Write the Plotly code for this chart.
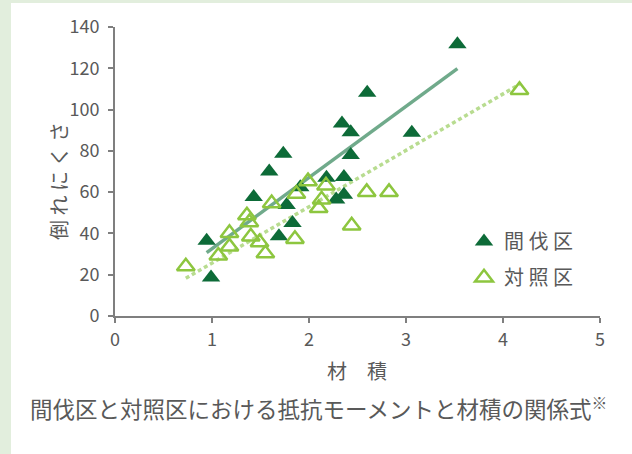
import plotly.graph_objects as go

# ---- data ----
thinned_x = [1.735, 1.59, 2.43, 1.43, 2.18, 2.36, 1.91, 1.77, 2.36, 2.28,
             1.83, 1.69, 0.945, 0.99, 2.60, 2.34, 2.43, 3.06, 3.53]
thinned_y = [78.6, 70.0, 78.0, 57.6, 67.0, 67.3, 62.4, 53.8, 58.7, 56.4,
             45.0, 38.6, 36.5, 18.7, 108.2, 93.2, 89.0, 88.8, 131.6]

control_x = [0.73, 1.065, 1.18, 1.18, 1.36, 1.385, 1.40, 1.49, 1.55, 1.615,
             1.855, 1.87, 1.99, 2.175, 2.13, 2.10, 2.44, 2.595, 2.825, 4.17]
control_y = [24.0, 29.2, 33.6, 40.2, 48.7, 45.4, 38.5, 35.7, 30.3, 54.6,
             37.3, 59.2, 65.2, 63.2, 56.4, 52.2, 43.8, 60.0, 60.0, 109.4]

# regression lines (end points)
fit_thinned_x = [0.945, 3.53]
fit_thinned_y = [30.7, 119.8]
fit_control_x = [0.73, 4.17]
fit_control_y = [18.3, 112.2]

x_ticks = [0, 1, 2, 3, 4, 5]
y_ticks = [0, 20, 40, 60, 80, 100, 120, 140]

series_names = ["間 伐 区", "対 照 区"]
x_title = "材　積"
y_title = "倒 れ に く さ"
caption = "間伐区と対照区における抵抗モーメントと材積の関係式<sup>※</sup>"

FONT = "Noto Sans CJK JP"
TXT = "#595959"
DARK = "#0d6b38"
LIGHT = "#8dc63f"

fig = go.Figure()

fig.add_trace(go.Scatter(
    x=fit_thinned_x, y=fit_thinned_y, mode="lines",
    line=dict(color="#70aa8b", width=3.5), showlegend=False, hoverinfo="skip"))
fig.add_trace(go.Scatter(
    x=fit_control_x, y=fit_control_y, mode="lines",
    line=dict(color="#b8dc90", width=3.5, dash="4px,3px"), showlegend=False,
    hoverinfo="skip"))

fig.add_trace(go.Scatter(
    x=thinned_x, y=thinned_y, mode="markers", name=series_names[0],
    legendgroup="a",
    marker=dict(symbol="triangle-up", size=16, color=DARK,
                line=dict(width=0))))
fig.add_trace(go.Scatter(
    x=control_x, y=control_y, mode="markers", name=series_names[1],
    legendgroup="b",
    marker=dict(symbol="triangle-up-open", size=15.5, color=LIGHT,
                line=dict(width=2.5, color=LIGHT))))

W, H = 632, 454
L, R, T, B = 115, 32, 27, 138
pw, ph = W - L - R, H - T - B


def px2paper_x(px):
    return (px - L) / pw


def px2paper_y(py):
    return (H - B - py) / ph


fig.add_shape(type="rect", xref="paper", yref="paper",
              x0=px2paper_x(11), x1=px2paper_x(W + 5),
              y0=px2paper_y(H + 5), y1=px2paper_y(3),
              fillcolor="white", line=dict(width=0), layer="below")

axis_common = dict(
    showgrid=False, zeroline=False, showline=True, linecolor="#7f7f7f",
    linewidth=2, ticks="outside", ticklen=5, tickwidth=2, tickcolor="#7f7f7f",
    tickfont=dict(family=FONT, size=18, color=TXT),
)

fig.update_layout(
    width=W, height=H,
    margin=dict(l=L, r=R, t=T, b=B, pad=0),
    paper_bgcolor="#e2eedd",
    plot_bgcolor="rgba(0,0,0,0)",
    font=dict(family=FONT, color=TXT),
    xaxis=dict(range=[0, 5], tickvals=x_ticks, ticklabelstandoff=1,
               **axis_common),
    yaxis=dict(range=[0, 140], tickvals=y_ticks, ticklabelstandoff=5,
               **axis_common),
    showlegend=True,
    legend=dict(x=px2paper_x(464), y=px2paper_y(222), xanchor="left",
                yanchor="top", bgcolor="rgba(0,0,0,0)",
                font=dict(family=FONT, size=20, color=TXT),
                tracegroupgap=7, traceorder="grouped"),
    annotations=[
        dict(text=x_title, xref="paper", yref="paper",
             x=px2paper_x(357), y=px2paper_y(370), showarrow=False,
             xanchor="center", yanchor="middle",
             font=dict(family=FONT, size=20, color=TXT)),
        dict(text=y_title, xref="paper", yref="paper", textangle=-90,
             x=px2paper_x(59), y=px2paper_y(181), showarrow=False,
             xanchor="center", yanchor="middle",
             font=dict(family=FONT, size=20, color=TXT)),
        dict(text=caption, xref="paper", yref="paper",
             x=px2paper_x(318), y=px2paper_y(407), showarrow=False,
             xanchor="center", yanchor="middle",
             font=dict(family=FONT, size=22.5, color=TXT)),
    ],
)

fig.write_html("out.html")
